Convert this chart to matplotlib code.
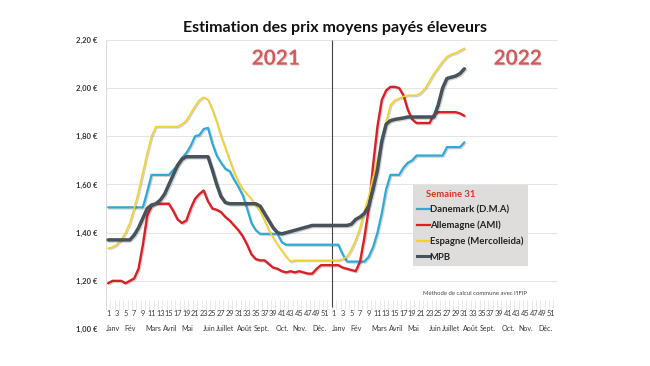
import matplotlib
matplotlib.use("Agg")
import matplotlib.pyplot as plt
import matplotlib.patheffects as pe
from matplotlib.lines import Line2D
import numpy as np

plt.rcParams['font.family'] = ['Lato', 'DejaVu Sans']

# weekly prices, week 1 2021 -> week 31 2022 (EUR/kg)
danemark = [1.505] * 9 + [1.57] + [1.64] * 5 + \
    [1.66, 1.68, 1.71, 1.73, 1.76, 1.80, 1.805, 1.83, 1.835, 1.77,
     1.72, 1.69, 1.665, 1.655, 1.62, 1.59, 1.555, 1.50, 1.44, 1.41] + \
    [1.395] * 5 + [1.36] + [1.35] * 13 + [1.31] + [1.28] * 5 + \
    [1.30, 1.34, 1.40, 1.48, 1.58] + [1.64] * 3 + [1.67, 1.69, 1.70] + \
    [1.72] * 7 + [1.755] * 4 + [1.775]

allemagne = [1.19, 1.20, 1.20, 1.20, 1.19, 1.20, 1.21, 1.25, 1.35, 1.47, 1.51] + \
    [1.52] * 4 + \
    [1.49, 1.455, 1.44, 1.45, 1.50, 1.54, 1.56, 1.575, 1.53, 1.50,
     1.495, 1.485, 1.465, 1.45, 1.43, 1.41, 1.385, 1.35, 1.31, 1.29,
     1.285, 1.285, 1.27, 1.255, 1.25, 1.24, 1.235, 1.24, 1.235, 1.24,
     1.235, 1.23, 1.23, 1.25] + \
    [1.265] * 5 + \
    [1.255, 1.25, 1.245, 1.24, 1.28, 1.38, 1.50, 1.68, 1.84, 1.95,
     1.99, 2.005, 2.005, 2.0, 1.97, 1.91, 1.87] + \
    [1.855] * 4 + [1.89] + [1.90] * 5 + [1.895, 1.885]

espagne = [1.335, 1.34, 1.35, 1.37, 1.40, 1.44, 1.50, 1.57, 1.65, 1.73, 1.80] + \
    [1.84] * 6 + \
    [1.85, 1.865, 1.895, 1.925, 1.95, 1.962, 1.952, 1.91, 1.86, 1.80,
     1.75, 1.70, 1.65, 1.61, 1.58, 1.56, 1.54, 1.51, 1.49, 1.45,
     1.41, 1.38, 1.35, 1.325, 1.30, 1.28] + \
    [1.285] * 11 + \
    [1.29, 1.30, 1.33, 1.37, 1.42, 1.49, 1.55, 1.63, 1.70, 1.78,
     1.86, 1.93, 1.95, 1.957, 1.965, 1.97, 1.97, 1.97, 1.98, 2.00,
     2.03, 2.06, 2.085, 2.11, 2.13, 2.14, 2.145, 2.155, 2.165]

mpb = [1.37] * 6 + \
    [1.39, 1.42, 1.46, 1.50, 1.515, 1.52, 1.535, 1.56, 1.60, 1.64, 1.68, 1.705] + \
    [1.715] * 6 + [1.66, 1.60, 1.55, 1.525] + [1.52] * 7 + \
    [1.51, 1.48, 1.45, 1.42, 1.40, 1.395, 1.40, 1.405, 1.41, 1.415, 1.42, 1.425] + \
    [1.43] * 9 + \
    [1.435, 1.455, 1.465, 1.48, 1.51, 1.58, 1.66, 1.78, 1.85, 1.865, 1.87, 1.873, 1.876] + \
    [1.88] * 7 + [1.93, 2.00, 2.04, 2.045, 2.05, 2.06, 2.08]

series = [
    ("Danemark (D.M.A)", danemark, "#2FA9D6", 1.6),
    ("Allemagne (AMI)", allemagne, "#DA1F26", 1.7),
    ("Espagne (Mercolleida)", espagne, "#F2D230", 1.25),
    ("MPB", mpb, "#47525A", 2.5),
]

n_weeks = 104  # 2021 + 2022
week_labels = [str(w) for w in range(1, 53)] * 2
months = ["Janv", "Fév", "Mars", "Avril", "Mai", "Juin", "Juillet", "Août",
          "Sept.", "Oct.", "Nov.", "Déc."]
month_pos = [1.2, 5.1, 10.4, 14.3, 18.2, 23.2, 26.9, 31.4, 35.3, 40.1, 44.1, 48.6]
y_ticks = [1.0, 1.2, 1.4, 1.6, 1.8, 2.0, 2.2]

fig = plt.figure(figsize=(6.5, 3.66), dpi=100)
ax = fig.add_axes([0.163, 0.101, 0.695, 0.79])
ax.set_xlim(-0.5, n_weeks - 0.5)
ax.set_ylim(1.0, 2.2)
for s in ax.spines.values():
    s.set_visible(False)
ax.set_xticks([])
ax.set_yticks(y_ticks)
ax.set_yticklabels([f"{v:.2f} €".replace(".", ",") for v in y_ticks],
                   fontsize=5.5, fontweight='bold', color='#333333')
ax.tick_params(axis='y', length=0, pad=6)

# gridlines
ax.hlines(y_ticks[1:], -0.5, n_weeks - 0.5, color='#E4E4E4', lw=0.7, zorder=0)
ax.vlines(-0.5, 1.08, 2.2, color='#D9D9D9', lw=0.7, zorder=0)
ax.vlines(np.arange(n_weeks) + 0.5, 1.08, 1.12, color='#E0E0E0', lw=0.5, zorder=0)

# divider between the years
ax.vlines(51.5, 1.09, 2.2, color='#444444', lw=0.8, zorder=1)

shadow = [pe.SimpleLineShadow(offset=(0.8, -0.8), alpha=0.18), pe.Normal()]
x = np.arange(len(mpb))
handles = []
for name, vals, col, lw in series:
    ax.plot(x, vals, color=col, lw=lw, solid_capstyle='round',
            path_effects=shadow, zorder=3)
    handles.append(Line2D([], [], color=col, lw=1.6 if name != "MPB" else 2.2, label=name))

# category axis labels
for i in range(0, n_weeks, 2):
    ax.text(i, 1.0625, week_labels[i], ha='center', va='center',
            fontsize=5.3, color='#3A3A3A')
for yr in range(2):
    for m, p in zip(months, month_pos):
        ax.text(yr * 52 + p, 1.004, m, ha='center', va='center',
                fontsize=5.1, color='#3A3A3A')

for lbl, xpos in [("2021", 38.6), ("2022", 94.3)]:
    ax.text(xpos, 2.122, lbl, ha='center', va='center', fontsize=15,
            fontweight='bold', color='#CF5A5C',
            path_effects=[pe.withSimplePatchShadow(offset=(0.8, -0.8), alpha=0.15)])

ax.text(84.4, 1.146, "Méthode de calcul commune avec l'IFIP", ha='center',
        va='center', fontsize=4.3, color='#444444')

leg = ax.legend(handles=handles, loc='upper left', bbox_to_anchor=(0.679, 0.498),
                borderaxespad=0, frameon=True, fancybox=False,
                title="    Semaine 31", alignment='left',
                prop={'size': 6.8, 'weight': 'bold'},
                handlelength=1.3, handletextpad=0.0, labelspacing=0.68,
                borderpad=0.5)
leg.get_frame().set_facecolor('#DFDCDC')
leg.get_frame().set_edgecolor('none')
leg.get_frame().set_alpha(1)
leg.get_title().set_fontsize(6.8)
leg.get_title().set_fontweight('bold')
leg.get_title().set_color('#D9342B')
for t in leg.get_texts():
    t.set_color('#222222')

fig.text(0.515, 0.923, "Estimation des prix moyens payés éleveurs",
         ha='center', va='center', fontsize=11.5, fontweight='bold', color='#111111')

fig.savefig("out.png", dpi=100)
